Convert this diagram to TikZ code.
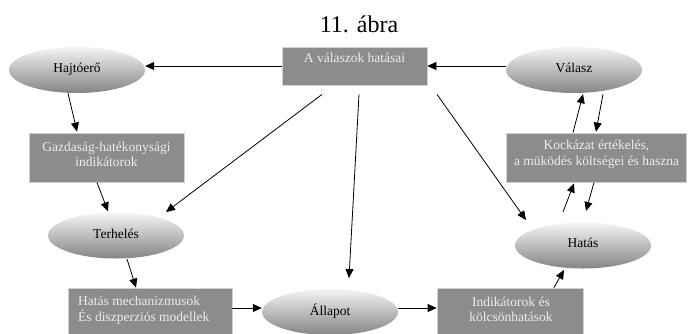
\documentclass[tikz,border=0pt]{standalone}
\usepackage{fontspec}
\setmainfont{Liberation Serif}
\usetikzlibrary{shapes.geometric,arrows.meta,calc}
\tikzset{
  ell/.style={ellipse, minimum width=136pt, minimum height=46pt, inner sep=0pt,
    top color=black!4, bottom color=black!48, font=\fontsize{13.5}{16}\selectfont},
  gbox/.style={rectangle, fill=black!45, draw=black!18, line width=0.8pt, inner sep=0pt},
  btxt/.style={text=white!93!black, inner sep=0pt, font=\fontsize{13.5}{15.5}\selectfont},
  arr/.style={-{Triangle[length=9pt,width=8pt]}, line width=0.8pt, black},
}
\begin{document}
\begin{tikzpicture}[x=1pt,y=-1pt]
\useasboundingbox (0,0) rectangle (688,333);
% title
\node[anchor=base, inner sep=0pt, font=\fontsize{24}{28}\selectfont] (title) at (359,32) {11. ábra};
% ellipses
\node[ell] (haj) at (77,70) {\raisebox{5pt}{Hajtóerő}};
\node[ell] (val) at (574,70) {\raisebox{5pt}{Válasz}};
\node[ell] (ter) at (116,235.5) {\raisebox{4pt}{Terhelés}};
\node[ell] (hat) at (583,245.5) {\raisebox{5pt}{Hatás}};
\node[ell] (all) at (330,312) {\raisebox{4pt}{Állapot}};
% boxes
\node[gbox, minimum width=145pt, minimum height=38pt] (avh) at (354.5,66) {};
\node[btxt] (avht) at (354.5,58) {A válaszok hatásai};
\node[gbox, minimum width=155pt, minimum height=49pt] (gaz) at (106.5,157.5) {};
\node[btxt, align=center] (gazt) at (106.5,154.5) {Gazdaság-hatékonysági\\indikátorok};
\node[gbox, minimum width=180pt, minimum height=49pt] (koc) at (596.5,157.5) {};
\node[btxt, align=center] (koct) at (596.5,154.5) {Kockázat értékelés,\\a müködés költségei és haszna};
\node[gbox, minimum width=164pt, minimum height=46pt] (hm) at (150,311) {};
\node[btxt, align=left, anchor=west] (hmt) at (78,310) {Hatás mechanizmusok\\És diszperziós modellek};
\node[gbox, minimum width=146pt, minimum height=46pt] (ind) at (510,311) {};
\node[btxt, align=center] (indt) at (511,309.5) {Indikátorok és\\kölcsönhatások};
% connectors
\draw[arr] (avh.west) -- (avh.west -| haj.east);
\draw[arr] (avh.east -| val.west) -- (avh.east);
\draw[arr] ($(haj.south)+(-9,0)$) -- ($(gaz.north)+(-29.5,-1)$);
\draw[arr] ($(gaz.south)+(-9.5,0)$) -- ($(ter.north)+(-8,-1)$);
\draw[arr] ($(avh.south)+(-32.5,9)$) -- ($(ter.center)+(50,-23.5)$);
\draw[arr] ($(avh.south)+(4.5,9)$) -- ($(all.center)+(19,-34)$);
\draw[arr] ($(avh.south)+(82.5,9)$) -- ($(hat.center)+(-57,-25.5)$);
\draw[arr] ($(ter.center)+(11,23.5)$) -- ($(hm.north)+(-14,0)$);
\draw[arr] (hm.east |- 0,308) -- (all.west |- 0,308);
\draw[arr] (all.east |- 0,308) -- (ind.west |- 0,308);
\draw[arr] ($(ind.north)+(44,0)$) -- ($(hat.center)+(-19,24.5)$);
\draw[arr] ($(hat.center)+(-20,-33.5)$) -- ($(koc.south)+(-22.5,1)$);
\draw[arr] ($(koc.south)+(-2.5,0)$) -- ($(hat.center)+(3,-34.5)$);
\draw[arr] ($(koc.north)+(-23.5,0)$) -- ($(val.south)+(9,1)$);
\draw[arr] ($(val.south)+(29,1)$) -- ($(koc.north)+(-0.5,-1)$);
\end{tikzpicture}
\end{document}
